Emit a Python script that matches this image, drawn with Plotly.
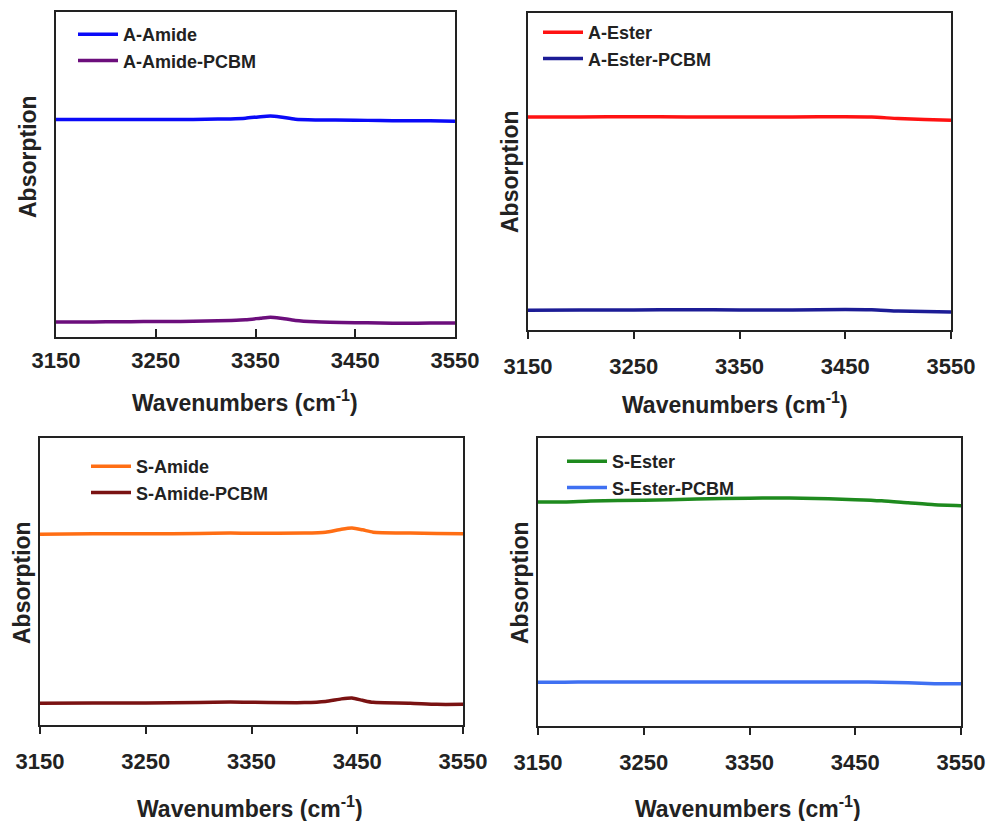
import plotly.graph_objects as go

# ---------------- data ----------------
tl_x = [3150, 3175, 3200, 3225, 3250, 3275, 3300, 3325, 3340, 3355, 3365, 3375, 3390, 3410, 3450, 3475, 3500, 3525, 3550]
a_amide = [0.669, 0.669, 0.669, 0.669, 0.669, 0.669, 0.670, 0.671, 0.673, 0.678, 0.680, 0.677, 0.670, 0.668, 0.667, 0.666, 0.665, 0.665, 0.664]
a_amide_pcbm = [0.046, 0.046, 0.047, 0.047, 0.048, 0.048, 0.049, 0.051, 0.053, 0.058, 0.061, 0.058, 0.051, 0.047, 0.044, 0.043, 0.042, 0.043, 0.043]

tr_x = [3150, 3200, 3250, 3300, 3350, 3400, 3450, 3475, 3500, 3525, 3550]
a_ester = [0.672, 0.672, 0.673, 0.672, 0.672, 0.672, 0.673, 0.672, 0.667, 0.664, 0.662]
a_ester_pcbm = [0.062, 0.063, 0.063, 0.064, 0.063, 0.063, 0.065, 0.064, 0.060, 0.058, 0.057]

bl_x = [3150, 3200, 3250, 3300, 3330, 3350, 3400, 3420, 3435, 3445, 3455, 3465, 3500, 3525, 3550]
s_amide = [0.665, 0.666, 0.666, 0.667, 0.669, 0.668, 0.669, 0.672, 0.682, 0.686, 0.680, 0.672, 0.669, 0.667, 0.666]
s_amide_pcbm = [0.076, 0.077, 0.077, 0.078, 0.080, 0.079, 0.078, 0.082, 0.091, 0.094, 0.086, 0.079, 0.076, 0.072, 0.072]

br_x = [3150, 3175, 3200, 3250, 3300, 3350, 3375, 3400, 3450, 3475, 3500, 3525, 3550]
s_ester = [0.778, 0.778, 0.781, 0.784, 0.788, 0.791, 0.792, 0.791, 0.786, 0.782, 0.775, 0.768, 0.765]
s_ester_pcbm = [0.152, 0.152, 0.153, 0.153, 0.153, 0.153, 0.153, 0.153, 0.153, 0.152, 0.150, 0.147, 0.147]

tick_vals = [3150, 3250, 3350, 3450, 3550]
x_title = "Wavenumbers (cm<sup>-1</sup>)"
y_title = "Absorption"

W, H = 990, 821
FONT = "Liberation Sans, Arial, sans-serif"

panels = [
    dict(xs=tl_x, series=[("A-Amide", a_amide, "#0A0AF8"), ("A-Amide-PCBM", a_amide_pcbm, "#6C0E7C")],
         xd=(56, 455), yd=(12, 337), ticks="inside", tlen=8, stand=3,
         leg=(73, 16), xt=(245, 401), yt=(28, 157)),
    dict(xs=tr_x, series=[("A-Ester", a_ester, "#FF1212"), ("A-Ester-PCBM", a_ester_pcbm, "#1C1C96")],
         xd=(528, 951), yd=(13, 330), ticks="outside", tlen=7, stand=9,
         leg=(538, 14), xt=(735, 403), yt=(510, 172)),
    dict(xs=bl_x, series=[("S-Amide", s_amide, "#FF6E14"), ("S-Amide-PCBM", s_amide_pcbm, "#7A1212")],
         xd=(40, 463), yd=(438, 725), ticks="outside", tlen=7, stand=9,
         leg=(86, 448), xt=(250, 807), yt=(22, 583)),
    dict(xs=br_x, series=[("S-Ester", s_ester, "#1E8A1E"), ("S-Ester-PCBM", s_ester_pcbm, "#3F70F2")],
         xd=(538, 961), yd=(438, 726), ticks="outside", tlen=7, stand=9,
         leg=(562, 443), xt=(748, 807), yt=(520, 583)),
]

fig = go.Figure()
layout = dict(width=W, height=H, margin=dict(l=0, r=0, t=0, b=0, autoexpand=False),
              paper_bgcolor="white", plot_bgcolor="white",
              font=dict(family=FONT, color="#222222"))
annotations = []

for i, p in enumerate(panels, start=1):
    sfx = "" if i == 1 else str(i)
    leg = "legend" if i == 1 else f"legend{i}"
    for name, ys, color in p["series"]:
        fig.add_trace(go.Scatter(x=p["xs"], y=ys, mode="lines", name=name,
                                 line=dict(color=color, width=3.5, shape="spline", smoothing=0.6),
                                 xaxis="x" + sfx, yaxis="y" + sfx, legend=leg))
    x0, x1 = p["xd"]
    yt, yb = p["yd"]
    layout["xaxis" + sfx] = dict(domain=[x0 / W, x1 / W], range=[3150, 3550], anchor="y" + sfx,
                                 tickvals=tick_vals, ticks=p["ticks"], ticklen=p["tlen"], tickwidth=1.5,
                                 tickcolor="#222222", showline=True, mirror=True, linecolor="#222222",
                                 linewidth=2, showgrid=False, zeroline=False, automargin=False,
                                 ticklabelstandoff=p["stand"],
                                 tickfont=dict(family=FONT, size=22, color="#222222", weight="bold"))
    layout["yaxis" + sfx] = dict(domain=[1 - yb / H, 1 - yt / H], range=[0, 1], anchor="x" + sfx,
                                 showticklabels=False, ticks="", showline=True, mirror=True, automargin=False,
                                 linecolor="#222222", linewidth=2, showgrid=False, zeroline=False)
    lx, ly = p["leg"]
    layout[leg] = dict(x=lx / W, y=1 - ly / H, xanchor="left", yanchor="top",
                       bgcolor="rgba(0,0,0,0)", borderwidth=0, itemwidth=40,
                       tracegroupgap=0, font=dict(family=FONT, size=18, color="#222222", weight="bold"))
    annotations.append(dict(text=x_title, x=p["xt"][0] / W, y=1 - p["xt"][1] / H, xref="paper", yref="paper",
                            showarrow=False, xanchor="center", yanchor="middle",
                            font=dict(family=FONT, size=23, color="#222222", weight="bold")))
    annotations.append(dict(text=y_title, x=p["yt"][0] / W, y=1 - p["yt"][1] / H, xref="paper", yref="paper",
                            showarrow=False, xanchor="center", yanchor="middle", textangle=-90,
                            font=dict(family=FONT, size=23, color="#222222", weight="bold")))

layout["annotations"] = annotations
fig.update_layout(**layout)
fig.write_html("out.html")
